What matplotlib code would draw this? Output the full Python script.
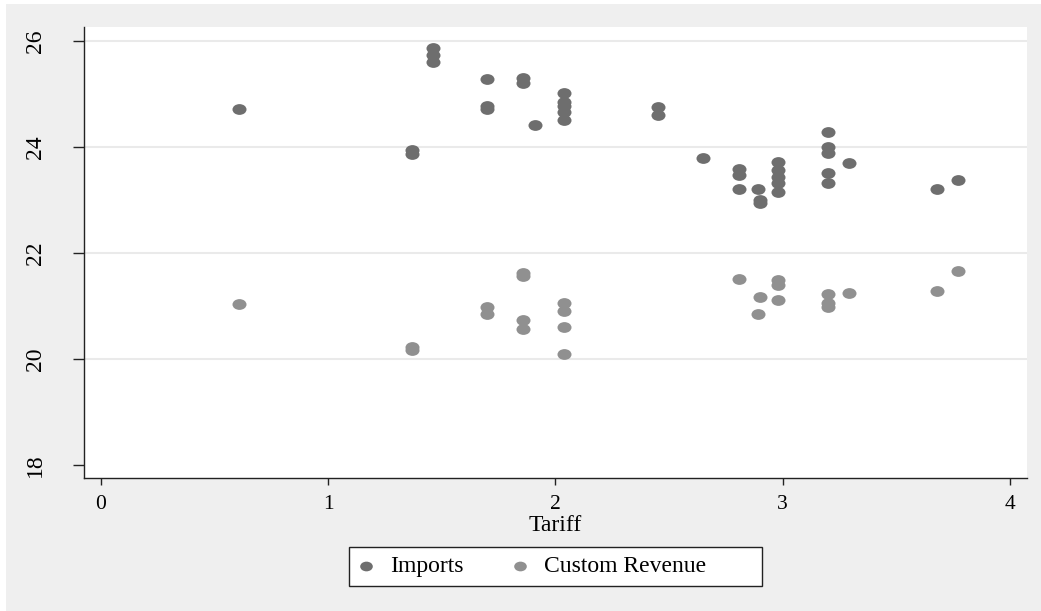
import matplotlib
matplotlib.use("Agg")
import matplotlib.pyplot as plt
from matplotlib.path import Path
from matplotlib.patches import Rectangle

# tariff vs log imports / log custom revenue
imp_tariff = [0.61, 1.37, 1.37, 1.46, 1.46, 1.46, 1.70, 1.70, 1.70, 1.86, 1.86,
              1.91, 2.04, 2.04, 2.04, 2.04, 2.04, 2.45, 2.45, 2.65, 2.81, 2.81,
              2.81, 2.89, 2.90, 2.90, 2.98, 2.98, 2.98, 2.98, 2.98, 3.20, 3.20,
              3.20, 3.20, 3.20, 3.29, 3.68, 3.77]
imports = [24.72, 23.94, 23.86, 25.86, 25.73, 25.60, 25.27, 24.77, 24.71, 25.29,
           25.20, 24.42, 25.01, 24.85, 24.77, 24.66, 24.50, 24.75, 24.60, 23.78,
           23.59, 23.47, 23.21, 23.21, 22.99, 22.93, 23.72, 23.56, 23.43, 23.31,
           23.15, 24.28, 24.00, 23.88, 23.50, 23.32, 23.70, 23.21, 23.38]

rev_tariff = [0.61, 1.37, 1.37, 1.70, 1.70, 1.86, 1.86, 1.86, 1.86, 2.04, 2.04,
              2.04, 2.04, 2.81, 2.89, 2.90, 2.98, 2.98, 2.98, 3.20, 3.20, 3.20,
              3.29, 3.68, 3.77]
revenue = [21.03, 20.22, 20.17, 20.98, 20.84, 21.62, 21.57, 20.74, 20.56, 21.06,
           20.91, 20.59, 20.09, 21.50, 20.84, 21.17, 21.48, 21.39, 21.10, 21.23,
           21.05, 20.98, 21.24, 21.27, 21.65]

x_ticks = [0, 1, 2, 3, 4]
y_ticks = [18, 20, 22, 24, 26]

plt.rcParams["font.family"] = ["Liberation Serif", "DejaVu Serif"]

W, H = 1041, 611

# slightly wide ellipse, like the stretched stata dots
circ = Path.unit_circle()
dot = Path(circ.vertices * [1.3, 1.0], circ.codes)

fig = plt.figure(figsize=(W / 100, H / 100), dpi=100, facecolor="white")
fig.patches.append(Rectangle((6 / W, 0), 1, 1 - 4 / H, transform=fig.transFigure,
                             facecolor="#efefef", edgecolor="none", zorder=-10))

ax = fig.add_axes([84 / W, 1 - 478 / H, (1026.7 - 84) / W, (478 - 27) / H])
ax.set_facecolor("white")

ax.scatter(imp_tariff, imports, marker=dot, s=102, color="#6e6e6e", linewidths=0,
           label="Imports", zorder=3)
ax.scatter(rev_tariff, revenue, marker=dot, s=102, color="#909090", linewidths=0,
           label="Custom Revenue", zorder=3)

ax.set_xlim(-0.0735, 4.074)
ax.set_ylim(17.75, 26.26)
ax.set_xticks(x_ticks)
ax.set_yticks(y_ticks)

for s in ["top", "right"]:
    ax.spines[s].set_visible(False)
for s in ["left", "bottom"]:
    ax.spines[s].set_linewidth(1.0)
    ax.spines[s].set_color("#222222")

ax.tick_params(axis="x", length=5, width=1, pad=7, labelsize=15.5, color="#222222")
ax.tick_params(axis="y", length=8, width=1, pad=19.5, labelsize=17, color="#222222",
               labelrotation=90)
for lab in ax.get_yticklabels():
    lab.set_va("center")

ax.grid(axis="y", color="#eaeaea", linewidth=1.5, zorder=0)
ax.get_ygridlines()[0].set_visible(False)
ax.set_axisbelow(True)

ax.set_xlabel("Tariff", fontsize=17, labelpad=1)

# legend box drawn by hand so it can be as wide as stata's
fig.patches.append(Rectangle((349 / W, 1 - 585.7 / H), (762 - 349) / W, 39 / H,
                             transform=fig.transFigure, facecolor="white",
                             edgecolor="#222222", linewidth=1.0, zorder=5))
leg = fig.legend(loc="center left", bbox_to_anchor=(349 / W, 1 - 566.2 / H), ncol=2,
                 fontsize=17, frameon=False, borderaxespad=0, borderpad=0.23,
                 handletextpad=0.5, columnspacing=1.9, handlelength=1.0,
                 markerscale=0.9)
leg.set_zorder(6)

plt.savefig("out.png", dpi=100, facecolor=fig.get_facecolor())
